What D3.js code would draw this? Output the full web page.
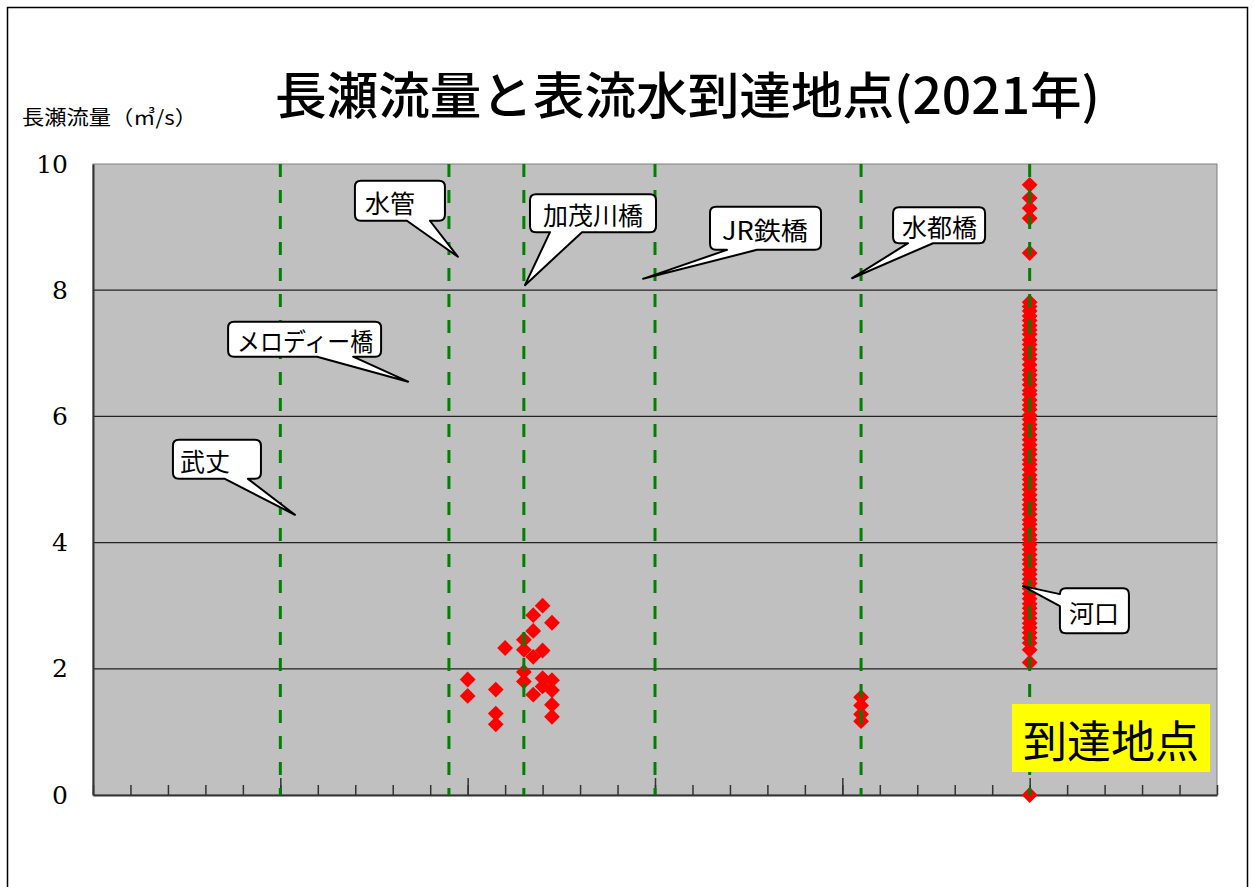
<!DOCTYPE html>
<html>
<head>
<meta charset="utf-8">
<script src="https://cdn.jsdelivr.net/npm/d3@7/dist/d3.min.js"></script>
<style>
  html, body { margin: 0; padding: 0; background: #fff; }
  svg { display: block; }
</style>
</head>
<body>
<div id="chart"></div>
<script>
// data
const titleText = "長瀬流量と表流水到達地点(2021年)"
const yLabel = "長瀬流量（㎥/s）"
const yTicks = [0, 2, 4, 6, 8, 10]

// reference lines (x position on the hidden distance axis)
const refLines = [5, 9.5, 11.5, 15, 20.5, 25]

// arrival points: x = reach position, q = flow (m3/s)
const midX = [10, 10, 10.75, 10.75, 10.75, 11, 11.5, 11.5, 11.5, 11.5, 11.75, 11.75, 11.75, 11.75,
  12, 12, 12, 12, 12.25, 12.25, 12.25, 12.25, 12.25]
const midQ = [1.83, 1.57, 1.67, 1.29, 1.12, 2.33, 2.46, 2.30, 1.95, 1.80, 2.85, 2.60, 2.19, 1.59,
  3.00, 2.29, 1.85, 1.72, 2.73, 1.82, 1.66, 1.43, 1.24]
const suitoQ = [1.55, 1.42, 1.28, 1.17]
const mouthQ = [9.67, 9.46, 9.30, 9.14, 8.59,
  7.81, 7.74, 7.67, 7.59, 7.52, 7.44, 7.37, 7.30, 7.21, 7.14, 7.06, 6.98, 6.91, 6.82, 6.73,
  6.66, 6.58, 6.50, 6.41, 6.35, 6.26, 6.18, 6.11, 6.02, 5.95, 5.87, 5.80, 5.71, 5.63, 5.55,
  5.47, 5.40, 5.31, 5.24, 5.16, 5.07, 5.00, 4.92, 4.84, 4.76, 4.68, 4.60, 4.53, 4.45, 4.36,
  4.29, 4.21, 4.12, 4.05, 3.97, 3.89, 3.81, 3.73, 3.66, 3.57, 3.50, 3.42, 3.35, 3.27, 3.19,
  3.11, 3.03, 2.96, 2.88, 2.80, 2.72, 2.65, 2.57, 2.49, 2.41, 2.30, 2.10, 0]

// callouts: label + tip in data units
const calloutLabels = ["武丈", "メロディー橋", "水管", "加茂川橋", "JR鉄橋", "水都橋", "河口"]
const calloutTipX = [5.39, 8.41, 9.74, 11.53, 14.68, 20.26, 24.82]
const calloutTipQ = [4.44, 6.55, 8.53, 8.08, 8.18, 8.19, 3.31]

const W = 1254, H = 887
const plot = { left: 93, right: 1217, top: 164, bottom: 795 }
const CJK = "'Noto Sans CJK JP', sans-serif"

const svg = d3.select("#chart").append("svg")
  .attr("width", W).attr("height", H)

svg.append("rect")
  .attr("x", 7.5).attr("y", 7.5).attr("width", 1240).attr("height", 900)
  .attr("fill", "#fff").attr("stroke", "#000").attr("stroke-width", 1.5)

const x = d3.scaleLinear().domain([0, 30]).range([plot.left, plot.right])
const y = d3.scaleLinear().domain([0, 10]).range([plot.bottom, plot.top])

// title + axis label
svg.append("text")
  .attr("x", 275).attr("y", 114)
  .attr("font-family", CJK).attr("font-size", 50).attr("font-weight", 500)
  .attr("textLength", 825).attr("lengthAdjust", "spacingAndGlyphs")
  .attr("fill", "#000")
  .text(titleText)

svg.append("text")
  .attr("x", 22).attr("y", 125)
  .attr("font-family", CJK).attr("font-size", 20)
  .attr("textLength", 175).attr("lengthAdjust", "spacingAndGlyphs")
  .text(yLabel)

// plot area
svg.append("rect")
  .attr("x", plot.left).attr("y", plot.top)
  .attr("width", plot.right - plot.left).attr("height", plot.bottom - plot.top)
  .attr("fill", "#c0c0c0").attr("stroke", "#808080").attr("stroke-width", 1)

// gridlines
svg.append("g").selectAll("line")
  .data(yTicks.filter(d => d > 0 && d < 10))
  .join("line")
  .attr("x1", plot.left).attr("x2", plot.right)
  .attr("y1", d => y(d)).attr("y2", d => y(d))
  .attr("stroke", "#222").attr("stroke-width", 1.2)

// y axis
const yAxis = svg.append("g")
  .attr("transform", `translate(${plot.left},0)`)
  .call(d3.axisLeft(y).tickValues(yTicks).tickSize(0).tickPadding(25).tickFormat(d3.format("d")))
yAxis.select(".domain").attr("stroke", "#333").attr("stroke-width", 2)
yAxis.selectAll("text")
  .attr("font-family", "'DejaVu Serif', serif").attr("font-size", 25).attr("fill", "#000")

// x axis: minor + major inward ticks, no labels
const xMinor = svg.append("g")
  .attr("transform", `translate(0,${plot.bottom})`)
  .call(d3.axisBottom(x).ticks(30).tickSizeInner(-10).tickSizeOuter(0).tickFormat(""))
xMinor.selectAll(".tick line").attr("stroke", "#333").attr("stroke-width", 1.5)
xMinor.select(".domain").attr("stroke", "#333").attr("stroke-width", 2)

const xMajor = svg.append("g")
  .attr("transform", `translate(0,${plot.bottom})`)
  .call(d3.axisBottom(x).tickValues([5, 10, 15, 20, 25]).tickSizeInner(-17).tickSizeOuter(0).tickFormat(""))
xMajor.select(".domain").remove()
xMajor.selectAll(".tick line").attr("stroke", "#333").attr("stroke-width", 1.5)

// points
const points = []
midX.forEach((v, i) => points.push({ x: v, q: midQ[i] }))
suitoQ.forEach(q => points.push({ x: 20.5, q }))
mouthQ.forEach(q => points.push({ x: 25, q }))

const diamond = d3.symbol().type(d3.symbolSquare).size(125)
svg.append("g").selectAll("path")
  .data(points)
  .join("path")
  .attr("d", diamond)
  .attr("transform", d => `translate(${x(d.x)},${y(d.q)}) rotate(45)`)
  .attr("fill", "#ff0000")

// green dashed reference lines
svg.append("g").selectAll("line")
  .data(refLines)
  .join("line")
  .attr("x1", d => x(d)).attr("x2", d => x(d))
  .attr("y1", plot.top).attr("y2", plot.bottom)
  .attr("stroke", "#008000").attr("stroke-width", 3)
  .attr("stroke-dasharray", "13,13")

// callout boxes (pixel offsets of the box relative to its tip)
const boxLayout = [
  { dx: -122, dy: -75, w: 88, h: 39, side: "bottom", b1: -70, b2: -47, pad: 7, tl: null },
  { dx: -180, dy: -60, w: 153, h: 35, side: "bottom", b1: -91, b2: -55, pad: 9, tl: 136 },
  { dx: -103, dy: -76, w: 90, h: 40, side: "bottom", b1: -51, b2: -28, pad: 10, tl: null },
  { dx: 5, dy: -91, w: 126, h: 38, side: "bottom", b1: 25, b2: 57, pad: 13, tl: null },
  { dx: 67, dy: -72, w: 111, h: 43, side: "bottom", b1: 84, b2: 114, pad: 12, tl: 86 },
  { dx: 41, dy: -71, w: 92, h: 36, side: "bottom", b1: 56, b2: 81, pad: 9, tl: null },
  { dx: 37, dy: 2, w: 69, h: 45, side: "left", b1: 8, b2: 20, pad: 9, tl: null }
]

function calloutPath(tx, ty, L) {
  const r = 6
  const x0 = tx + L.dx, y0 = ty + L.dy, x1 = x0 + L.w, y1 = y0 + L.h
  let p = `M${x0 + r},${y0} H${x1 - r} Q${x1},${y0} ${x1},${y0 + r} V${y1 - r} Q${x1},${y1} ${x1 - r},${y1}`
  if (L.side === "bottom") {
    p += ` H${tx + L.b2} L${tx},${ty} L${tx + L.b1},${y1}`
  }
  p += ` H${x0 + r} Q${x0},${y1} ${x0},${y1 - r}`
  if (L.side === "left") {
    p += ` V${ty + L.b2} L${tx},${ty} L${x0},${ty + L.b1}`
  }
  p += ` V${y0 + r} Q${x0},${y0} ${x0 + r},${y0} Z`
  return p
}

const callouts = calloutLabels.map((label, i) => ({
  label, tx: x(calloutTipX[i]), ty: y(calloutTipQ[i]), L: boxLayout[i]
}))

const cg = svg.append("g").selectAll("g")
  .data(callouts)
  .join("g")

cg.append("path")
  .attr("d", d => calloutPath(d.tx, d.ty, d.L))
  .attr("fill", "#fff").attr("stroke", "#000").attr("stroke-width", 2)
  .attr("stroke-linejoin", "round")

cg.append("text")
  .attr("x", d => d.tx + d.L.dx + d.L.pad)
  .attr("y", d => d.ty + d.L.dy + d.L.h / 2 + 1)
  .attr("dominant-baseline", "central")
  .attr("font-family", CJK).attr("font-size", 25)
  .attr("fill", "#000")
  .each(function (d) {
    if (d.L.tl) d3.select(this).attr("textLength", d.L.tl).attr("lengthAdjust", "spacingAndGlyphs")
  })
  .text(d => d.label)

// yellow label box
svg.append("rect")
  .attr("x", 1012).attr("y", 704).attr("width", 198).attr("height", 68)
  .attr("fill", "#ffff00")
svg.append("text")
  .attr("x", 1111).attr("y", 739)
  .attr("text-anchor", "middle").attr("dominant-baseline", "central")
  .attr("font-family", CJK).attr("font-size", 44)
  .attr("fill", "#000")
  .text("到達地点")
</script>
</body>
</html>
